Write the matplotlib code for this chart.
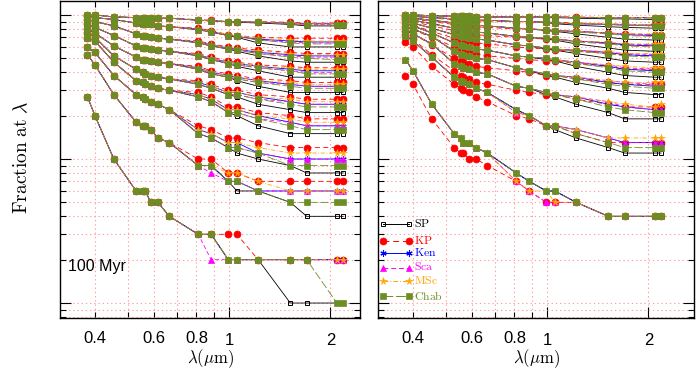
import matplotlib
matplotlib.use('Agg')
import matplotlib.pyplot as plt
from matplotlib.ticker import FixedLocator, FixedFormatter, FuncFormatter, NullFormatter, LogLocator

plt.rcParams['mathtext.fontset'] = 'cm'
plt.rcParams['font.family'] = ['Liberation Sans', 'DejaVu Sans']

# ---------------- data ----------------
wave = [0.38, 0.40, 0.455, 0.53, 0.555, 0.565, 0.585, 0.615, 0.665,
        0.81, 0.885, 0.995, 1.055, 1.22, 1.52, 1.70, 2.09, 2.18]
n_head = 9  # columns shared by all models (tails below start at 0.81 um)

models = ['SP', 'KP', 'Ken', 'Sca', 'MSc', 'Chab']
x_major = [1, 2]
x_minor = [0.4, 0.5, 0.6, 0.7, 0.8, 0.9]
x_minor_labels = {0.4: '0.4', 0.6: '0.6', 0.8: '0.8'}
panel_text = '100 Myr'

# ---- left panel (percent) ----
chab_left = [
    [100, 100, 97, 96, 96, 96, 96, 95, 95, 92, 91, 90, 90, 89, 87, 85, 85, 85],
    [98, 96, 93, 88, 87, 86, 86, 84, 83, 79, 76, 72, 71, 67, 64, 63, 63, 63],
    [93, 90, 84, 74, 72, 71, 70, 69, 68, 64, 61, 58, 57, 54, 51, 50, 49, 49],
    [86, 82, 72, 61, 59, 59, 58, 57, 56, 52, 49, 46, 45, 43, 41, 39, 39, 39],
    [80, 75, 61, 51, 49, 49, 48, 47, 46, 42, 39, 37, 36, 34, 32, 31, 31, 31],
    [75, 70, 52, 42, 40, 39, 38, 37, 36, 33, 31, 28, 28, 26, 24, 23, 23, 23],
    [69, 66, 47, 35, 34, 33, 32, 31, 30, 27, 25, 21, 21, 19, 17, 16, 16, 16],
    [60, 55, 38, 28, 27, 26, 25, 24, 22, 15, 14, 12, 12, 11, 9, 9, 9, 9],
    [53, 45, 28, 18, 17, 17, 16, 14, 13, 9, 9, 7, 7, 6, 5, 5, 5, 5],
    [27, 20, 10, 6, 6, 6, 5, 5, 4, 3, 3, 2, 2, 2, 2, 2, 1, 1],
]
sp_tail_left = [
    [92, 91, 90, 89, 88, 86, 84, 84, 84],
    [79, 76, 72, 70, 64, 60, 60, 60, 60],
    [64, 61, 58, 56, 52, 48, 47, 47, 47],
    [52, 49, 46, 44, 41, 37, 37, 37, 37],
    [42, 39, 37, 35, 32, 29, 29, 29, 29],
    [33, 31, 28, 27, 24, 22, 21, 21, 21],
    [27, 25, 21, 20, 17, 15, 15, 15, 15],
    [15, 14, 12, 11, 10, 9, 8, 8, 8],
    [9, 9, 7, 6, 6, 5, 4, 4, 4],
    [3, 3, 2, 2, 2, 1, 1, 1, 1],
]
kp_tail_left = [
    [93, 92, 90, 90, 90, 89, 88, 88, 88],
    [81, 78, 73, 72, 70, 69, 69, 69, 69],
    [66, 63, 60, 59, 57, 55, 54, 54, 54],
    [54, 51, 48, 47, 45, 44, 43, 43, 43],
    [44, 41, 39, 38, 36, 35, 34, 34, 34],
    [35, 33, 30, 30, 28, 27, 26, 26, 26],
    [29, 27, 23, 23, 21, 20, 19, 19, 19],
    [17, 16, 14, 14, 13, 12, 12, 12, 12],
    [10, 10, 8, 8, 7, 7, 7, 7, 7],
    [3, 3, 3, 3, 2, 2, 2, 2, 2],
]
ken_tail_left = [
    [92, 91, 90, 90, 89, 88, 87, 87, 87],
    [80, 77, 72, 71, 68, 66, 65, 65, 65],
    [65, 62, 59, 58, 55, 53, 52, 52, 52],
    [53, 50, 47, 46, 44, 42, 41, 41, 41],
    [43, 40, 38, 37, 35, 33, 32, 32, 32],
    [34, 32, 29, 29, 27, 25, 24, 24, 24],
    [28, 26, 22, 22, 20, 18, 17, 17, 17],
    [16, 15, 13, 13, 11, 10, 10, 10, 10],
    [9, 9, 7, 7, 6, 6, 6, 6, 6],
    [3, 3, 2, 2, 2, 2, 2, 2, 2],
]
sca_tail_left = [
    [92, 91, 90, 90, 89, 87, 86, 86, 86],
    [79, 76, 72, 71, 67, 65, 64, 64, 64],
    [64, 61, 58, 57, 54, 52, 51, 51, 51],
    [52, 49, 46, 45, 43, 41, 40, 40, 40],
    [42, 39, 37, 36, 34, 33, 32, 32, 32],
    [33, 31, 28, 28, 26, 25, 24, 24, 24],
    [27, 25, 21, 21, 19, 18, 17, 17, 17],
    [15, 14, 12, 12, 11, 10, 10, 10, 10],
    [9, 8, 7, 7, 6, 6, 6, 6, 6],
    [3, 2, 2, 2, 2, 2, 2, 2, 2],
]
msc_tail_left = [
    [92, 91, 90, 90, 89, 88, 87, 87, 87],
    [80, 77, 73, 72, 69, 67, 66, 66, 66],
    [65, 62, 59, 58, 56, 54, 53, 53, 53],
    [53, 50, 47, 46, 44, 43, 42, 42, 42],
    [43, 40, 38, 37, 35, 34, 33, 33, 33],
    [34, 32, 29, 29, 27, 26, 25, 25, 25],
    [28, 26, 22, 22, 20, 19, 18, 18, 18],
    [16, 15, 13, 13, 12, 11, 11, 11, 11],
    [9, 9, 8, 8, 7, 6, 6, 6, 6],
    [3, 3, 2, 2, 2, 2, 2, 2, 2],
]

# ---- right panel (percent) ----
chab_right = [
    [100, 100, 99, 98, 98, 98, 98, 97, 97, 97, 97, 97, 97, 96, 96, 95, 95, 95],
    [99, 98, 96, 94, 94, 93, 93, 92, 92, 90, 90, 89, 88, 87, 86, 85, 84, 84],
    [97, 95, 92, 88, 87, 87, 86, 85, 84, 81, 80, 79, 78, 76, 74, 72, 71, 71],
    [94, 92, 87, 81, 79, 78, 77, 76, 75, 71, 70, 69, 68, 65, 63, 61, 60, 60],
    [91, 88, 81, 73, 71, 70, 69, 68, 67, 62, 61, 59, 58, 56, 54, 52, 51, 51],
    [87, 84, 75, 64, 62, 61, 60, 58, 57, 52, 51, 50, 49, 46, 43, 41, 40, 40],
    [83, 80, 71, 56, 54, 53, 52, 50, 49, 43, 41, 39, 38, 36, 33, 32, 31, 31],
    [79, 74, 63, 46, 44, 43, 42, 40, 39, 32, 31, 29, 28, 26, 23, 22, 21, 21],
    [72, 66, 51, 37, 35, 34, 33, 31, 29, 22, 20, 17, 17, 15, 13, 12, 12, 12],
    [49, 41, 24, 15, 14, 13, 13, 12, 11, 8, 7, 6, 6, 5, 4, 4, 4, 4],
]
kp_right = [
    [100, 100, 99, 98, 98, 98, 98, 97, 97, 97, 97, 97, 97, 97, 96, 96, 96, 96],
    [99, 98, 95, 93, 93, 92, 92, 91, 91, 90, 90, 89, 89, 88, 87, 86, 86, 86],
    [96, 94, 90, 86, 85, 85, 84, 83, 82, 80, 80, 79, 78, 77, 75, 74, 73, 73],
    [92, 90, 84, 78, 76, 75, 74, 73, 72, 70, 69, 68, 68, 66, 64, 62, 62, 62],
    [88, 85, 77, 69, 67, 66, 65, 64, 63, 60, 59, 58, 57, 56, 54, 53, 52, 52],
    [83, 79, 70, 60, 57, 56, 55, 54, 52, 50, 49, 48, 48, 46, 44, 42, 42, 42],
    [78, 74, 62, 50, 48, 47, 46, 44, 43, 41, 40, 38, 38, 36, 34, 33, 33, 33],
    [73, 68, 53, 41, 38, 37, 36, 34, 33, 30, 29, 28, 28, 26, 24, 23, 23, 23],
    [65, 60, 44, 33, 31, 30, 29, 27, 25, 20, 19, 17, 17, 15, 13, 13, 13, 13],
    [38, 33, 19, 12, 11, 11, 10, 10, 9, 7, 6, 5, 5, 5, 4, 4, 4, 4],
]
sp_tail_right = [
    [97, 97, 97, 96, 95, 94, 94, 93, 93],
    [90, 90, 89, 87, 85, 83, 82, 81, 81],
    [81, 80, 78, 77, 74, 70, 68, 67, 67],
    [71, 70, 68, 67, 63, 59, 57, 56, 56],
    [62, 61, 58, 57, 54, 50, 48, 47, 47],
    [52, 51, 49, 48, 44, 40, 38, 37, 37],
    [43, 41, 38, 37, 34, 31, 29, 28, 28],
    [32, 31, 28, 27, 24, 21, 19, 19, 19],
    [22, 20, 17, 16, 14, 12, 11, 11, 11],
    [8, 7, 6, 6, 5, 4, 4, 4, 4],
]
ken_tail_right = [
    [97, 97, 97, 97, 96, 96, 96, 96, 96],
    [90, 90, 89, 88, 87, 86, 85, 85, 85],
    [81, 80, 79, 78, 77, 75, 73, 72, 72],
    [71, 70, 69, 68, 66, 64, 62, 61, 61],
    [62, 61, 59, 58, 57, 55, 53, 52, 52],
    [52, 51, 50, 49, 47, 44, 42, 41, 41],
    [43, 41, 39, 38, 37, 34, 33, 32, 32],
    [32, 31, 29, 28, 27, 24, 23, 22, 22],
    [22, 20, 17, 17, 16, 14, 13, 13, 13],
    [8, 7, 6, 6, 5, 4, 4, 4, 4],
]
sca_tail_right = [
    [97, 97, 97, 97, 96, 96, 96, 96, 96],
    [90, 90, 89, 88, 87, 86, 86, 86, 86],
    [81, 80, 79, 78, 77, 75, 74, 73, 73],
    [71, 70, 69, 68, 66, 64, 63, 62, 62],
    [62, 61, 59, 58, 57, 55, 54, 53, 53],
    [52, 51, 50, 49, 47, 45, 43, 42, 42],
    [43, 41, 39, 38, 37, 35, 34, 33, 33],
    [32, 31, 29, 28, 27, 25, 23, 22, 22],
    [21, 20, 17, 17, 16, 14, 13, 13, 13],
    [7, 6, 5, 5, 5, 4, 4, 4, 4],
]
msc_tail_right = [
    [97, 97, 97, 97, 96, 96, 96, 96, 96],
    [90, 90, 89, 88, 87, 87, 86, 86, 86],
    [81, 80, 79, 78, 77, 75, 74, 74, 74],
    [71, 70, 69, 68, 66, 65, 63, 63, 63],
    [62, 61, 59, 58, 57, 56, 54, 54, 54],
    [52, 51, 50, 49, 47, 45, 44, 43, 43],
    [43, 41, 39, 38, 37, 35, 34, 34, 34],
    [32, 31, 29, 28, 27, 25, 24, 23, 24],
    [21, 20, 17, 17, 16, 14, 14, 14, 14],
    [7, 6, 6, 5, 5, 4, 4, 4, 4],
]

# ---------------- styles ----------------
GREEN = '#6b8e23'
styles = {
    'SP':   dict(color='black', ls='-', marker='s', mfc='none', mec='black', ms=3.3, mew=0.7),
    'KP':   dict(color='red', ls=(0, (6, 4)), marker='o', mfc='red', mec='red', ms=5.0, mew=0.5),
    'Ken':  dict(color='blue', ls='-', marker=(6, 2, 0), mec='blue', ms=4.5, mew=0.8),
    'Sca':  dict(color='magenta', ls=(0, (5, 3)), marker='^', mfc='magenta', mec='magenta', ms=3.8, mew=0.5),
    'MSc':  dict(color='orange', ls=(0, (5, 2, 1, 2)), marker='*', mfc='orange', mec='orange', ms=5.5, mew=0.4),
    'Chab': dict(color=GREEN, ls=(0, (10, 3)), marker='s', mfc=GREEN, mec=GREEN, ms=4.3, mew=0.5),
}
label_colors = {'SP': 'black', 'KP': 'red', 'Ken': 'blue', 'Sca': 'magenta',
                'MSc': 'orange', 'Chab': GREEN}


def build(chab, tails, full=None):
    out = {'Chab': chab}
    for m, t in tails.items():
        out[m] = [row[:n_head] + tail for row, tail in zip(chab, t)]
    if full:
        out.update(full)
    return out


left_data = build(chab_left, {'SP': sp_tail_left, 'KP': kp_tail_left, 'Ken': ken_tail_left,
                              'Sca': sca_tail_left, 'MSc': msc_tail_left})
right_data = build(chab_right, {'SP': sp_tail_right, 'Ken': ken_tail_right,
                                'Sca': sca_tail_right, 'MSc': msc_tail_right},
                   full={'KP': kp_right})

W, H = 696, 370
fig = plt.figure(figsize=(W / 100, H / 100), dpi=100)
bottom_px, top_px = 318, 1
ax1 = fig.add_axes([60 / W, 1 - bottom_px / H, 300 / W, (bottom_px - top_px) / H])
ax2 = fig.add_axes([378 / W, 1 - bottom_px / H, 316 / W, (bottom_px - top_px) / H])

grid_kw = dict(color='#ff9e9e', ls=(0, (1.2, 2.6)), lw=0.8)


def minor_fmt(v, pos):
    for k, s in x_minor_labels.items():
        if abs(v - k) < 1e-6:
            return s
    return ''


for ax, data, xmax in [(ax1, left_data, 2.447), (ax2, right_data, 2.73)]:
    ax.set_xscale('log')
    ax.set_yscale('log')
    ax.set_xlim(0.315, xmax)
    ax.set_ylim(0.787, 125.1)
    for m in models:
        for row in data[m]:
            ax.plot(wave, row, lw=0.6, **styles[m])
    ax.xaxis.set_major_locator(FixedLocator(x_major))
    ax.xaxis.set_major_formatter(FixedFormatter([str(v) for v in x_major]))
    ax.xaxis.set_minor_locator(FixedLocator(x_minor))
    ax.xaxis.set_minor_formatter(FuncFormatter(minor_fmt))
    ax.yaxis.set_major_locator(LogLocator(base=10, numticks=10))
    ax.yaxis.set_minor_locator(LogLocator(base=10, subs=range(2, 10), numticks=10))
    ax.yaxis.set_major_formatter(NullFormatter())
    ax.yaxis.set_minor_formatter(NullFormatter())
    ax.tick_params(which='both', direction='in', top=True, right=True, labelsize=12, width=0.8)
    ax.tick_params(which='major', length=8, pad=10.5)
    ax.tick_params(which='minor', length=4, pad=9.5)
    ax.grid(True, which='both', **grid_kw)
    ax.set_axisbelow(True)
    for sp in ax.spines.values():
        sp.set_linewidth(1.0)
    ax.set_xlabel(r'$\lambda(\mu{\rm m})$', fontsize=12, labelpad=0)

ax1.text(0.027, 0.164, panel_text, transform=ax1.transAxes, fontsize=11.5,
         ha='left', va='center')

fig.text(22 / W, 1 - 157 / H, r'$\rm Fraction\ at\ \lambda$', rotation=90,
         ha='center', va='center', fontsize=14)

# legend (right panel)
leg_y = {'SP': 224, 'KP': 240.5, 'Ken': 253, 'Sca': 267.5, 'MSc': 281, 'Chab': 296}
for m in models:
    yy = (bottom_px - leg_y[m]) / (bottom_px - top_px)
    ax2.plot([0.016, 0.098], [yy, yy], transform=ax2.transAxes, lw=0.7, clip_on=False,
             **styles[m])
    ax2.text(0.115, yy, r'$\rm %s$' % m, transform=ax2.transAxes, color=label_colors[m],
             fontsize=8.5, ha='left', va='center')

fig.savefig('out.png', dpi=100)
